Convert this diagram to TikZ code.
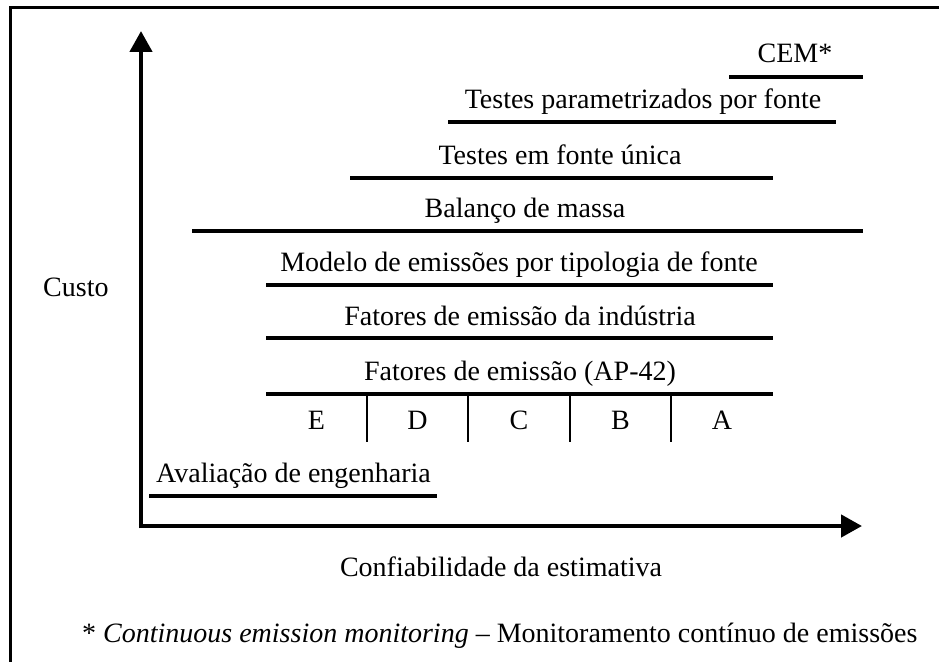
\documentclass[tikz,border=0pt]{standalone}
\usepackage{fontspec}
\setmainfont{Liberation Serif}
\usetikzlibrary{arrows.meta}
\begin{document}
\begin{tikzpicture}[x=1pt,y=-1pt,
  lbl/.style={inner sep=0pt,anchor=base,font=\fontsize{28}{33}\selectfont},
  bar/.style={line width=3.6pt},
  divider/.style={line width=2pt},
  axis/.style={line width=4.5pt,-{Triangle[length=21pt,width=22pt]}},
  frame/.style={line width=3pt}]
\useasboundingbox (0,0) rectangle (939,661);
\clip (0,0) rectangle (939,661);
\fill[white] (0,0) rectangle (939,661);
% frame (right and bottom sides fall outside the picture)
\draw[frame] (10,700) -- (10,8) -- (980,8);
% axes
\coordinate (O) at (141,526);
\coordinate (ytip) at (141,31);
\coordinate (xtip) at (862,526);
\draw[axis] ([yshift=-2.25pt]O) -- (ytip);
\draw[axis] ([xshift=-2.25pt]O) -- (xtip);
% labels
\node[lbl] (cem) at (795,63) {CEM*};
\node[lbl] (tpf) at (643,108) {Testes parametrizados por fonte};
\node[lbl] (tfu) at (560,164) {Testes em fonte única};
\node[lbl] (bm) at (525,217) {Balanço de massa};
\node[lbl] (mod) at (519,271) {Modelo de emissões por tipologia de fonte};
\node[lbl] (fei) at (520,325) {Fatores de emissão da indústria};
\node[lbl] (ap) at (520,380) {Fatores de emissão (AP-42)};
\node[lbl] (E) at (316.5,429) {E};
\node[lbl] (D) at (417.5,429) {D};
\node[lbl] (C) at (519,429) {C};
\node[lbl] (B) at (620.5,429) {B};
\node[lbl] (A) at (722,429) {A};
\node[lbl,anchor=base west] (ava) at (156,482) {Avaliação de engenharia};
\node[lbl,anchor=base west] (custo) at (43,296) {Custo};
\node[lbl] (conf) at (501,576) {Confiabilidade da estimativa};
\node[lbl,anchor=base west] (foot) at (82,642) {* \textit{Continuous emission monitoring} – Monitoramento contínuo de emissões};
% bars
\coordinate (c1) at (729,77);  \coordinate (c2) at (863,77);
\coordinate (t1) at (448,122); \coordinate (t2) at (836,122);
\coordinate (u1) at (350,178); \coordinate (u2) at (773,178);
\coordinate (b1) at (192,231); \coordinate (b2) at (863,231);
\coordinate (m1) at (266,285); \coordinate (m2) at (773,285);
\coordinate (f1) at (266,338); \coordinate (f2) at (773,338);
\coordinate (a1) at (266,394); \coordinate (a2) at (773,394);
\coordinate (v1) at (149,496); \coordinate (v2) at (437,496);
\draw[bar] (c1) -- (c2);
\draw[bar] (t1) -- (t2);
\draw[bar] (u1) -- (u2);
\draw[bar] (b1) -- (b2);
\draw[bar] (m1) -- (m2);
\draw[bar] (f1) -- (f2);
\draw[bar] (a1) -- (a2);
\draw[bar] (v1) -- (v2);
% dividers
\foreach \x/\n in {367/1,468/2,570/3,671/4}{
  \coordinate (d\n a) at (\x,394);
  \coordinate (d\n b) at (\x,442);
  \draw[divider] (d\n a) -- (d\n b);
}
\end{tikzpicture}
\end{document}
